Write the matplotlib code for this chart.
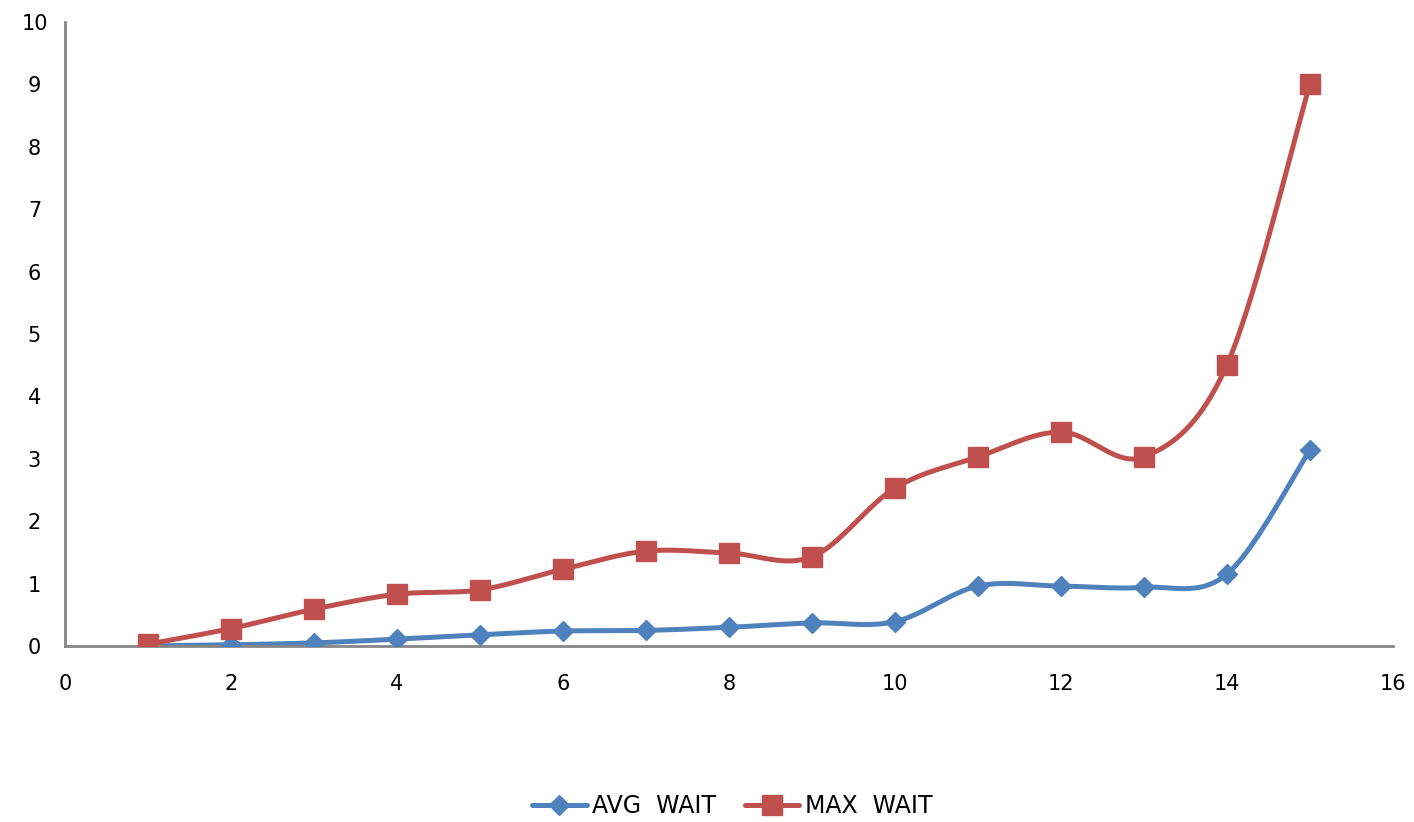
import numpy as np
import matplotlib
matplotlib.use("Agg")
import matplotlib.pyplot as plt

# Measurement data
x_values = [1, 2, 3, 4, 5, 6, 7, 8, 9, 10, 11, 12, 13, 14, 15]
avg_wait = [0.0, 0.02, 0.05, 0.11, 0.18, 0.24, 0.25, 0.30, 0.37, 0.39,
            0.96, 0.96, 0.94, 1.15, 3.14]
max_wait = [0.03, 0.28, 0.59, 0.83, 0.90, 1.23, 1.52, 1.49, 1.43, 2.53,
            3.03, 3.43, 3.03, 4.50, 9.00]
x_ticks = [0, 2, 4, 6, 8, 10, 12, 14, 16]
y_ticks = [0, 1, 2, 3, 4, 5, 6, 7, 8, 9, 10]

BLUE = "#4F81BD"
RED = "#C0504D"
AXIS = "#868686"


def smooth(xs, ys, n=40):
    """Cubic Bezier smoothing through every point (Catmull-Rom style)."""
    p = np.column_stack([xs, ys]).astype(float)
    out = []
    for i in range(len(p) - 1):
        p0 = p[i - 1] if i > 0 else p[i]
        p1 = p[i]
        p2 = p[i + 1]
        p3 = p[i + 2] if i + 2 < len(p) else p[i + 1]
        c1 = p1 + (p2 - p0) / 6.0
        c2 = p2 - (p3 - p1) / 6.0
        t = np.linspace(0, 1, n)[:, None]
        seg = ((1 - t) ** 3) * p1 + 3 * ((1 - t) ** 2) * t * c1 \
            + 3 * (1 - t) * t ** 2 * c2 + t ** 3 * p2
        out.append(seg if i == 0 else seg[1:])
    seg = np.vstack(out)
    return seg[:, 0], seg[:, 1]


fig = plt.figure(figsize=(14.14, 8.22), dpi=100)
ax = fig.add_axes([0.046, 0.2141, 0.939, 0.7591])

sx, sy = smooth(x_values, avg_wait)
ax.plot(sx, sy, color=BLUE, lw=3.6, solid_capstyle="round", zorder=2)
ax.plot(x_values, avg_wait, ls="none", marker="D", ms=10.5,
        color=BLUE, zorder=3)

sx, sy = smooth(x_values, max_wait)
ax.plot(sx, sy, color=RED, lw=3.6, solid_capstyle="round", zorder=2)
ax.plot(x_values, max_wait, ls="none", marker="s", ms=15,
        color=RED, zorder=3)

# Legend proxies (line with marker)
h_avg, = ax.plot([], [], color=BLUE, lw=3.6, marker="D", ms=10.5,
                 solid_capstyle="round")
h_max, = ax.plot([], [], color=RED, lw=3.6, marker="s", ms=15,
                 solid_capstyle="round")
fig.legend([h_avg, h_max], ["AVG  WAIT", "MAX  WAIT"],
           loc="center", bbox_to_anchor=(0.518, 0.019), ncol=2,
           frameon=False, fontsize=17, handlelength=2.3,
           handletextpad=0.25, columnspacing=1.2)

ax.set_xlim(0, 16)
ax.set_ylim(0, 10)
ax.set_xticks(x_ticks)
ax.set_yticks(y_ticks)
ax.tick_params(length=0, labelsize=15, colors="black")
ax.tick_params(axis="x", pad=20)
ax.tick_params(axis="y", pad=22)
for lab in ax.get_yticklabels():
    lab.set_horizontalalignment("center")

for side in ("top", "right"):
    ax.spines[side].set_visible(False)
for side in ("left", "bottom"):
    ax.spines[side].set_color(AXIS)
    ax.spines[side].set_linewidth(2)

fig.savefig("out.png", dpi=100, facecolor="white")
